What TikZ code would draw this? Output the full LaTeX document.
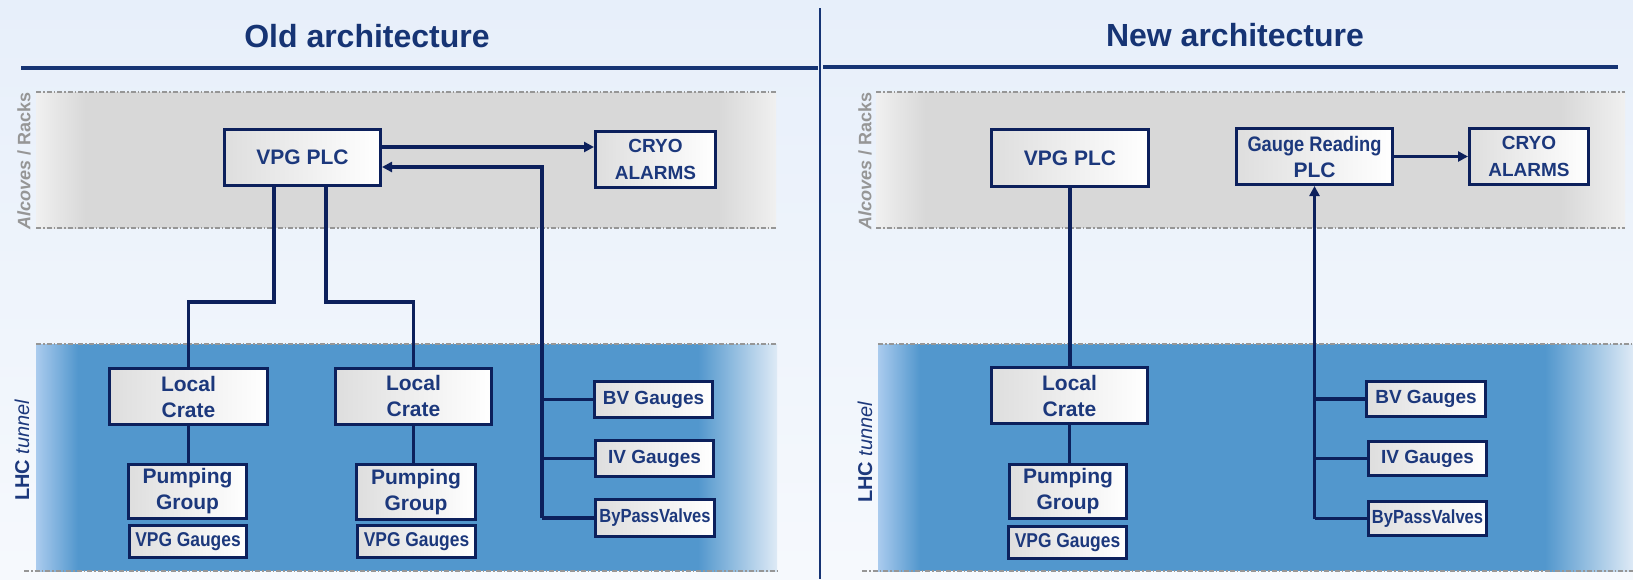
\documentclass[tikz,border=0pt]{standalone}
\usepackage{fontspec}
\setmainfont{Liberation Sans}
\newfontfamily\condfont[FakeStretch=0.87]{Liberation Sans}
\usetikzlibrary{arrows.meta}

\definecolor{navy}{RGB}{12,32,92}
\definecolor{ink}{RGB}{28,56,124}
\definecolor{heading}{RGB}{22,52,116}
\definecolor{bgtop}{RGB}{231,239,250}
\definecolor{bgbot}{RGB}{246,249,253}
\definecolor{rack}{RGB}{216,216,216}
\definecolor{racklight}{RGB}{240,240,240}
\definecolor{tunnel}{RGB}{82,151,205}
\definecolor{tunnelL}{RGB}{170,203,238}
\definecolor{tunnelR}{RGB}{222,234,246}
\definecolor{edge}{RGB}{150,150,150}

\tikzset{
  box/.style={draw=navy, line width=3pt, left color=black!13, right color=white,
    text=ink, font=\bfseries\fontsize{21}{26}\selectfont, align=center, inner sep=0pt},
  smallbox/.style={box, font=\bfseries\fontsize{19}{27}\selectfont},
  wire/.style={draw=navy, line width=3.2pt},
  arr/.style={wire, -{Triangle[length=10pt,width=10pt]}},
  zoneline/.style={draw=edge, line width=1.4pt, dash pattern=on 5pt off 2pt on 1.5pt off 2pt},
  rule/.style={draw=heading, line width=3.2pt},
  heading/.style={anchor=base, text=heading, font=\bfseries\fontsize{32}{32}\selectfont},
  racklabel/.style={rotate=90, text=edge, font=\bfseries\fontsize{18}{18}\selectfont},
  tunnellabel/.style={rotate=90, text=ink, font=\fontsize{20}{20}\selectfont},
}

\begin{document}
\begin{tikzpicture}[x=1pt,y=-1pt]
\useasboundingbox (0,0) rectangle (1633,579);
\shade[top color=bgtop, bottom color=bgbot] (0,0) rectangle (1633,579);

% ---------- zones ----------
% racks, left
\fill[rack] (36,92) rectangle (776,228);
\shade[left color=racklight, right color=rack] (36,92) rectangle (86,228);
\shade[left color=rack, right color=racklight] (718,92) rectangle (776,228);
% tunnel, left
\fill[tunnel] (36,344) rectangle (777,571);
\shade[left color=tunnelL, right color=tunnel] (36,344) rectangle (78,571);
\shade[left color=tunnel, right color=tunnelR] (698,344) rectangle (777,571);
% racks, right
\fill[rack] (876,92) rectangle (1625,228);
\shade[left color=racklight, right color=rack] (876,92) rectangle (926,228);
\shade[left color=rack, right color=racklight] (1560,92) rectangle (1625,228);
% tunnel, right
\fill[tunnel] (878,344) rectangle (1633,571);
\shade[left color=tunnelL, right color=tunnel] (878,344) rectangle (920,571);
\shade[left color=tunnel, right color=tunnelR] (1545,344) rectangle (1633,571);

\draw[zoneline] (36,92) -- (776,92);
\draw[zoneline] (36,228) -- (776,228);
\draw[zoneline] (36,344) -- (777,344);
\draw[zoneline] (24,571) -- (777,571);
\draw[zoneline] (876,92) -- (1625,92);
\draw[zoneline] (876,228) -- (1625,228);
\draw[zoneline] (878,344) -- (1633,344);
\draw[zoneline] (862,571) -- (1633,571);

% ---------- headings and separators ----------
\draw[rule] (21,68) -- (818,68);
\draw[rule] (823,67) -- (1618,67);
\draw[rule, line width=2.6pt] (820,8) -- (820,579);
\node[heading] (ttlOld) at (367,47) {Old architecture};
\node[heading] (ttlNew) at (1235,46) {New architecture};

\node[racklabel] (rackL) at (24,161) {\textit{Alcoves} / Racks};
\node[tunnellabel] (tunL) at (22,450) {\textbf{LHC} \textit{tunnel}};
\node[racklabel] (rackR) at (865,161) {\textit{Alcoves} / Racks};
\node[tunnellabel] (tunR) at (865,452) {\textbf{LHC} \textit{tunnel}};

% ---------- old architecture ----------
\node[box, minimum width=156pt, minimum height=56pt] (plcL) at (302.5,157.5) {VPG PLC};
\node[smallbox, minimum width=120pt, minimum height=56pt] (cryoL) at (655.5,159.5) {CRYO\\ALARMS};
\node[box, minimum width=158pt, minimum height=56pt] (crateA) at (188.5,396.5) {Local\\Crate};
\node[box, minimum width=156pt, minimum height=56pt] (crateB) at (413.5,396) {Local\\Crate};
\node[box, minimum width=118pt, minimum height=54pt] (pumpA) at (187.5,491.5) {Pumping\\Group};
\node[box, minimum width=119pt, minimum height=55pt] (pumpB) at (416,492) {Pumping\\Group};
\node[box, minimum width=117pt, minimum height=32pt, font=\condfont\bfseries\fontsize{20}{20}\selectfont] (vgA) at (188,541.5) {VPG Gauges};
\node[box, minimum width=118pt, minimum height=32pt, font=\condfont\bfseries\fontsize{20}{20}\selectfont] (vgB) at (416.5,541.5) {VPG Gauges};
\node[smallbox, minimum width=118pt, minimum height=36pt] (bvL) at (653.5,399.5) {BV Gauges};
\node[smallbox, minimum width=118pt, minimum height=36pt] (ivL) at (654.5,458.5) {IV Gauges};
\node[smallbox, minimum width=119pt, minimum height=37pt, font=\condfont\bfseries\fontsize{19}{19}\selectfont] (bpL) at (655,518) {ByPassValves};

\coordinate (busL) at (542,0);
\coordinate (outL) at ([yshift=10.5pt]plcL.east);
\coordinate (inL) at ([yshift=-9.5pt]plcL.east);
\coordinate (dropA) at ([xshift=-28.5pt]plcL.south);
\coordinate (dropB) at ([xshift=23.5pt]plcL.south);
\coordinate (jogA) at (crateA.north |- 0,302);
\coordinate (jogB) at (crateB.north |- 0,302);

\draw[arr] (outL) -- (outL -| cryoL.west);
\draw[arr] (bpL.west -| busL) -- (inL -| busL) -- (inL);
\draw[wire] (bvL.west -| busL) -- (bvL.west);
\draw[wire] (ivL.west -| busL) -- (ivL.west);
\draw[wire] (bpL.west -| busL) -- (bpL.west);
\draw[wire] (dropA) |- (jogA) -- (crateA.north);
\draw[wire] (dropB) |- (jogB) -- (crateB.north);
\draw[wire] (crateA.south) -- (crateA.south |- pumpA.north);
\draw[wire] (crateB.south) -- (crateB.south |- pumpB.north);

% ---------- new architecture ----------
\node[box, minimum width=157pt, minimum height=57pt] (plcR) at (1070,158) {VPG PLC};
\node[box, minimum width=156pt, minimum height=56pt] (grR) at (1314.5,156.5)
  {{\condfont Gauge Reading}\\PLC};
\node[smallbox, minimum width=119pt, minimum height=56pt] (cryoR) at (1529,156.5) {CRYO\\ALARMS};
\node[box, minimum width=156pt, minimum height=56pt] (crateR) at (1069.5,395.5) {Local\\Crate};
\node[box, minimum width=117pt, minimum height=54pt] (pumpR) at (1068,491.5) {Pumping\\Group};
\node[box, minimum width=118pt, minimum height=32pt, font=\condfont\bfseries\fontsize{20}{20}\selectfont] (vgR) at (1067.5,542.5) {VPG Gauges};
\node[smallbox, minimum width=119pt, minimum height=35pt] (bvR) at (1426,399) {BV Gauges};
\node[smallbox, minimum width=118pt, minimum height=34pt] (ivR) at (1427.5,458.5) {IV Gauges};
\node[smallbox, minimum width=118pt, minimum height=34pt, font=\condfont\bfseries\fontsize{19}{19}\selectfont] (bpR) at (1427.5,518.5) {ByPassValves};

\draw[arr] (grR.east) -- (grR.east -| cryoR.west);
\draw[arr] (bpR.west -| grR.south) -- (grR.south);
\draw[wire] (bvR.west -| grR.south) -- (bvR.west);
\draw[wire] (ivR.west -| grR.south) -- (ivR.west);
\draw[wire] (bpR.west -| grR.south) -- (bpR.west);
\draw[wire] (plcR.south) -- (plcR.south |- crateR.north);
\draw[wire] (crateR.south) -- (crateR.south |- pumpR.north);
\end{tikzpicture}
\end{document}
